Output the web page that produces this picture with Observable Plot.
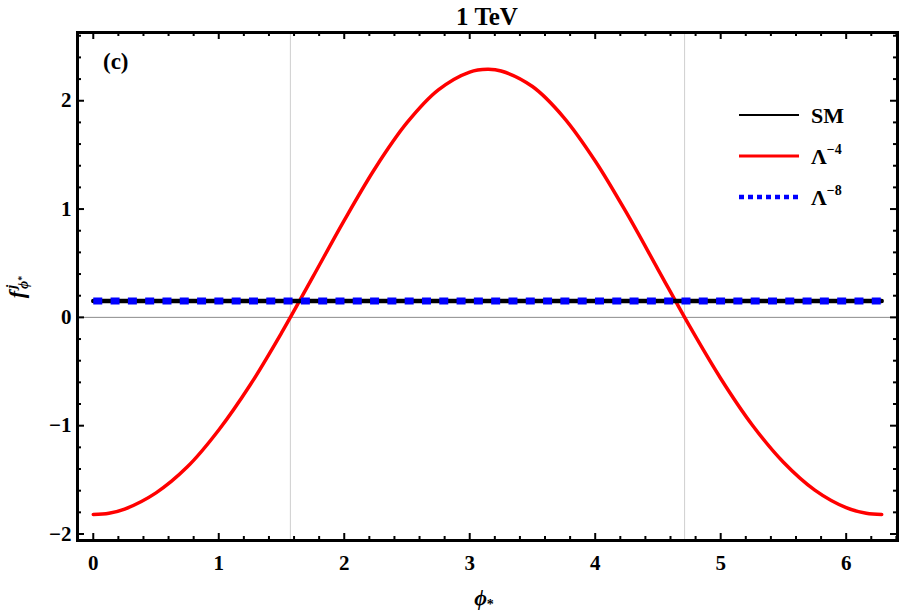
<!DOCTYPE html>
<html>
<head>
<meta charset="utf-8">
<script src="https://cdn.jsdelivr.net/npm/d3@7"></script>
<script src="https://cdn.jsdelivr.net/npm/@observablehq/plot@0.6"></script>
<style>
  body { margin: 0; background: #fff; }
  #chart svg { display: block; }
</style>
</head>
<body>
<div id="chart"></div>
<script>
// Angular distribution f^j_{φ*} at 1 TeV, panel (c)
const phi = [0, 0.125, 0.25, 0.5, 0.75, 1.0, 1.25, 1.5, 1.75, 2.0, 2.25, 2.5, 2.75, 3.0, 3.1416,
             3.25, 3.5, 3.75, 4.0, 4.25, 4.5, 4.75, 5.0, 5.25, 5.5, 5.75, 6.0, 6.16, 6.2832];
const lambda4 = [-1.82, -1.808, -1.77, -1.62, -1.38, -1.04, -0.625, -0.144, 0.374, 0.896, 1.384, 1.797, 2.100, 2.265, 2.29,
                 2.275, 2.131, 1.845, 1.444, 0.964, 0.444, -0.077, -0.564, -0.991, -1.338, -1.595, -1.757, -1.808, -1.82];
const flatPhi = [0, 6.2832];
const smValues = [0.15, 0.15];
const lambda8Values = [0.15, 0.15];

const gridPhi = [Math.PI / 2, 3 * Math.PI / 2];
const xMajor = [0, 1, 2, 3, 4, 5, 6];
const xMinor = d3.range(0, 33).map(i => i / 5).filter(v => Math.abs(v - Math.round(v)) > 1e-6);
const yMajor = [-2, -1, 0, 1, 2];
const yMinor = d3.range(-10, 14).map(i => i / 5).filter(v => Math.abs(v - Math.round(v)) > 1e-6);

const lambda4Rows = phi.map((p, i) => ({phi: p, f: lambda4[i]}));
const smRows = flatPhi.map((p, i) => ({phi: p, f: smValues[i]}));
const lambda8Rows = flatPhi.map((p, i) => ({phi: p, f: lambda8Values[i]}));

const serif = "Liberation Serif, Times New Roman, serif";
const W = 900, H = 611, mL = 77, mR = 3, mT = 32, mB = 71;
const innerH = H - mT - mB, innerW = W - mL - mR;
const majorLen = 7, minorLen = 4;
const intLabel = d => (d < 0 ? "\u2212" + (-d) : String(d));

const chart = Plot.plot({
  width: W, height: H,
  marginLeft: mL, marginRight: mR, marginTop: mT, marginBottom: mB,
  style: {fontFamily: serif, background: "white", color: "black"},
  x: {domain: [-0.1257, 6.409]},
  y: {domain: [-2.06, 2.63]},
  marks: [
    Plot.ruleX(gridPhi, {stroke: "#cfcfcf", strokeWidth: 1}),
    Plot.ruleY([0], {stroke: "#8c8c8c", strokeWidth: 1}),
    Plot.line(lambda4Rows, {x: "phi", y: "f", stroke: "#ff0000", strokeWidth: 3.5, curve: "catmull-rom"}),
    Plot.line(smRows, {x: "phi", y: "f", stroke: "black", strokeWidth: 4.5}),
    Plot.line(lambda8Rows, {x: "phi", y: "f", stroke: "#0000ff", strokeWidth: 7,
      strokeDasharray: "9,8.3", strokeLinecap: "butt"}),
    // inward frame ticks
    Plot.tickX(xMajor, {x: d => d, insetTop: innerH - majorLen, stroke: "black", strokeWidth: 2}),
    Plot.tickX(xMajor, {x: d => d, insetBottom: innerH - majorLen, stroke: "black", strokeWidth: 2}),
    Plot.tickX(xMinor, {x: d => d, insetTop: innerH - minorLen, stroke: "black", strokeWidth: 2}),
    Plot.tickX(xMinor, {x: d => d, insetBottom: innerH - minorLen, stroke: "black", strokeWidth: 2}),
    Plot.tickY(yMajor, {y: d => d, insetRight: innerW - majorLen, stroke: "black", strokeWidth: 2}),
    Plot.tickY(yMajor, {y: d => d, insetLeft: innerW - majorLen, stroke: "black", strokeWidth: 2}),
    Plot.tickY(yMinor, {y: d => d, insetRight: innerW - minorLen, stroke: "black", strokeWidth: 2}),
    Plot.tickY(yMinor, {y: d => d, insetLeft: innerW - minorLen, stroke: "black", strokeWidth: 2}),
    Plot.axisX({anchor: "bottom", ticks: xMajor, tickSize: 0, tickPadding: 15, fontSize: 21,
      fontWeight: "bold", fontFamily: serif, tickFormat: intLabel, label: null}),
    Plot.axisY({anchor: "left", ticks: yMajor, tickSize: 0, tickPadding: 6, fontSize: 21,
      fontWeight: "bold", fontFamily: serif, tickFormat: intLabel, label: null}),
    Plot.frame({stroke: "black", strokeWidth: 3})
  ]
});

const svg = d3.select(chart);
svg.selectAll("text").attr("font-family", serif).style("font-family", serif);

function addText(x, y, size, anchor) {
  return svg.append("text").attr("x", x).attr("y", y).attr("text-anchor", anchor)
    .style("font-family", serif).style("font-size", size + "px").style("font-weight", "bold")
    .style("text-anchor", anchor);
}

// title
addText((mL + W - mR) / 2, 25, 25, "middle").text("1 TeV");

// panel tag
addText(103, 69, 23, "start").text("(c)");

// x label φ*
const xl = addText(484, 605, 22, "middle");
xl.append("tspan").style("font-style", "italic").text("ϕ");
xl.append("tspan").attr("dy", 4).style("font-size", "14px").text("*");

// y label f^j_{φ*}
const yl = svg.append("text").attr("transform", "translate(24,287) rotate(-90)")
  .attr("text-anchor", "middle").style("text-anchor", "middle")
  .style("font-family", serif).style("font-size", "22px").style("font-weight", "bold").style("font-style", "italic");
yl.append("tspan").text("f");
yl.append("tspan").attr("dx", 2).attr("dy", -8).style("font-size", "14px").text("j");
yl.append("tspan").attr("dx", -4).attr("dy", 12).style("font-size", "14px").text("ϕ");
yl.append("tspan").attr("dy", -3).style("font-size", "10px").style("font-style", "normal").text("*");

// legend
const legend = [
  {label: "SM", sup: null, y: 115, stroke: "black", width: 2, dash: null},
  {label: "Λ", sup: "−4", y: 156, stroke: "#ff0000", width: 3, dash: null},
  {label: "Λ", sup: "−8", y: 197, stroke: "#0000ff", width: 4.5, dash: "5,4"}
];
legend.forEach(item => {
  const ln = svg.append("line").attr("x1", 739).attr("x2", 799).attr("y1", item.y).attr("y2", item.y)
    .attr("stroke", item.stroke).attr("stroke-width", item.width);
  if (item.dash) ln.attr("stroke-dasharray", item.dash);
  const t = addText(811, item.y + 8, 22, "start");
  t.append("tspan").text(item.label);
  if (item.sup) t.append("tspan").attr("dy", -10).style("font-size", "14px").text(item.sup);
});

document.getElementById("chart").appendChild(chart);
</script>
</body>
</html>
